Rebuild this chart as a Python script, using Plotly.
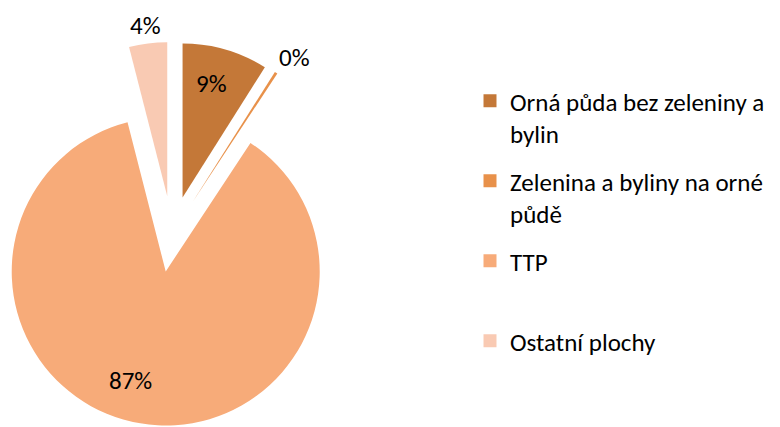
import math
import plotly.graph_objects as go

# Land-use shares (%), in drawing order starting at 12 o'clock, clockwise
labels = [
    "Orná půda bez zeleniny a bylin",
    "Zelenina a byliny na orné půdě",
    "TTP",
    "Ostatní plochy",
]
legend_names = [
    "Orná půda bez zeleniny a<br>bylin",
    "Zelenina a byliny na orné<br>půdě",
    "TTP<br> ",
    "Ostatní plochy",
]
values = [9, 0.3, 87, 4]
colors = ["#C47838", "#E8914A", "#F7AB79", "#F9CAB3"]

W, H = 780, 427
FONT = "Calibri, Carlito, Lato, sans-serif"

# geometry of the exploded pie (pixels)
R = 154            # slice radius
CX, CY = 172, 234  # common centre before exploding
PULL = 38          # explode distance along each slice bisector

# percentage label placement: radius fraction and angle offset (deg) from bisector
label_radius = [0.78, 1.16, 0.73, 1.13]
label_angle_offset = [-2, 2, 9, 0]

total = sum(values)
pct_text = [f"{round(v / total * 100)}%" for v in values]

fig = go.Figure()
annotations = []

cum = 0.0
for i, v in enumerate(values):
    bis = 360 * (cum + v / 2) / total
    cum += v
    theta = math.radians(bis)
    cx = CX + PULL * math.sin(theta)
    cy = CY - PULL * math.cos(theta)
    x0 = max(0.0, (cx - R) / W)
    x1 = min(1.0, (cx + R) / W)
    y0 = max(0.0, (H - cy - R) / H)
    y1 = min(1.0, (H - cy + R) / H)
    fig.add_trace(go.Pie(
        labels=labels,
        values=values,
        sort=False,
        direction="clockwise",
        rotation=0,
        domain=dict(x=[x0, x1], y=[y0, y1]),
        marker=dict(
            colors=[c if j == i else "rgba(0,0,0,0)" for j, c in enumerate(colors)],
            line=dict(width=0),
        ),
        textinfo="none",
        hoverinfo="skip",
        showlegend=False,
    ))
    # percentage label for this slice
    phi = math.radians(bis + label_angle_offset[i])
    rr = label_radius[i] * R
    lx = cx + rr * math.sin(phi)
    ly = cy - rr * math.cos(phi)
    annotations.append(dict(
        x=lx / W, y=1 - ly / H, xref="paper", yref="paper",
        text=pct_text[i], showarrow=False,
        xanchor="center", yanchor="middle", yshift=-2,
        font=dict(family=FONT, size=25, color="#000000"),
    ))

# legend entries
for name, c in zip(legend_names, colors):
    fig.add_trace(go.Scatter(
        x=[None], y=[None],
        mode="markers",
        marker=dict(symbol="square", size=13, color=c),
        name=name,
        legendgroup=name,
        showlegend=True,
        hoverinfo="skip",
    ))

fig.update_layout(
    width=W, height=H,
    margin=dict(l=0, r=0, t=0, b=0),
    paper_bgcolor="white",
    plot_bgcolor="white",
    xaxis=dict(visible=False),
    yaxis=dict(visible=False),
    showlegend=True,
    annotations=annotations,
    legend=dict(
        x=470 / W, y=1 - 78 / H,
        xanchor="left", yanchor="top",
        font=dict(family=FONT, size=25, color="#000000"),
        valign="top",
        tracegroupgap=12,
        itemwidth=30,
        bgcolor="rgba(0,0,0,0)",
    ),
)

fig.write_html("out.html")
